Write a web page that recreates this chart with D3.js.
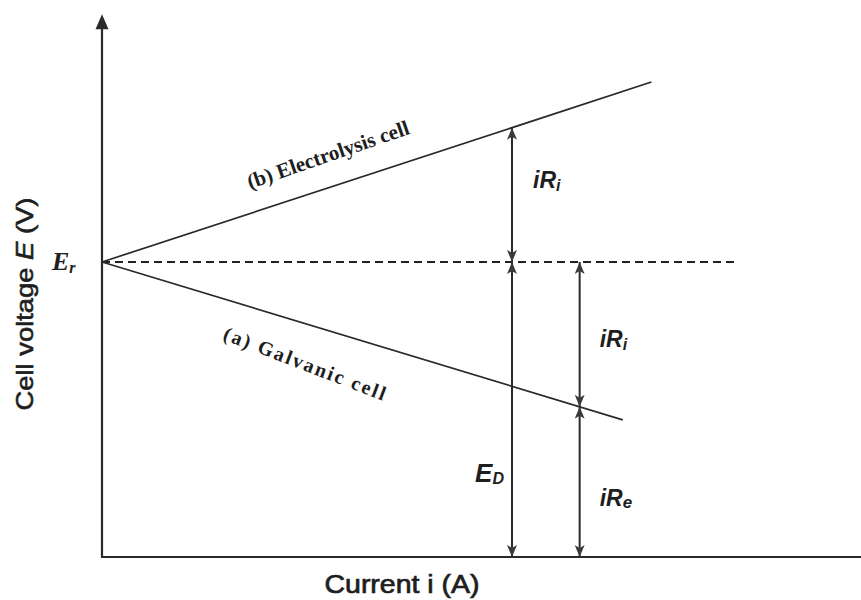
<!DOCTYPE html>
<html>
<head>
<meta charset="utf-8">
<script src="https://cdn.jsdelivr.net/npm/d3@7"></script>
<style>
  html, body { margin: 0; padding: 0; background: #fff; }
  svg { display: block; }
</style>
</head>
<body>
<svg id="chart" width="861" height="600"></svg>
<script>
// Cell voltage vs. current for a galvanic and an electrolysis cell
const reversibleE = 1.0;                 // E_r, cell voltage at zero current
const electrolysisI = [0, 1.34];         // (b) electrolysis cell: current
const electrolysisE = [1.0, 1.61];       //                        voltage
const galvanicI = [0, 1.27];             // (a) galvanic cell: current
const galvanicE = [1.0, 0.465];          //                    voltage
const markerCurrents = [1.0, 1.165];     // currents where the voltage drops are marked
const dashedEndI = 1.55;                 // extent of the E_r reference line
const axisMaxI = 1.86, axisMaxE = 1.84;

const svg = d3.select("#chart");
const x = d3.scaleLinear().domain([0, 1]).range([102, 512]);
const y = d3.scaleLinear().domain([0, 1]).range([557, 262]);

const ink = "#2a2a2a";

// arrow heads
const defs = svg.append("defs");
defs.append("marker")
  .attr("id", "head")
  .attr("viewBox", "0 0 12 10")
  .attr("refX", 12).attr("refY", 5)
  .attr("markerWidth", 12).attr("markerHeight", 10)
  .attr("markerUnits", "userSpaceOnUse")
  .attr("orient", "auto-start-reverse")
  .append("path")
  .attr("d", "M0,0 L12,5 L0,10 L3,5 Z")
  .attr("fill", "#3a3a3a");

// axes
const axes = svg.append("g");
axes.append("line")
  .attr("x1", x(0)).attr("y1", y(0))
  .attr("x2", x(0)).attr("y2", y(axisMaxE) + 12)
  .attr("stroke", ink).attr("stroke-width", 2.2);
axes.append("path")
  .attr("d", `M${x(0)},${y(axisMaxE)} L${x(0) + 6.5},${y(axisMaxE) + 15} L${x(0) - 6.5},${y(axisMaxE) + 15} Z`)
  .attr("fill", ink);
axes.append("line")
  .attr("x1", x(0) - 1).attr("y1", y(0))
  .attr("x2", x(axisMaxI)).attr("y2", y(0))
  .attr("stroke", ink).attr("stroke-width", 2.2);
axes.append("path")
  .attr("d", `M${x(axisMaxI) + 12},${y(0)} L${x(axisMaxI) - 3},${y(0) - 6.5} L${x(axisMaxI) - 3},${y(0) + 6.5} Z`)
  .attr("fill", ink);

// E_r reference line
svg.append("line")
  .attr("x1", x(0)).attr("y1", y(reversibleE))
  .attr("x2", x(dashedEndI)).attr("y2", y(reversibleE))
  .attr("stroke", "#222").attr("stroke-width", 1.8)
  .attr("stroke-dasharray", "8,5");

// characteristic lines
const line = d3.line().x(d => x(d[0])).y(d => y(d[1]));
const eData = d3.zip(electrolysisI, electrolysisE);
const gData = d3.zip(galvanicI, galvanicE);
[eData, gData].forEach(d => {
  svg.append("path")
    .attr("d", line(d))
    .attr("fill", "none")
    .attr("stroke", ink).attr("stroke-width", 1.7);
});

const eAt = i => d3.scaleLinear().domain(electrolysisI).range(electrolysisE)(i);
const gAt = i => d3.scaleLinear().domain(galvanicI).range(galvanicE)(i);

// voltage-drop arrows
const [iA, iB] = markerCurrents;
const segments = [
  { i: iA, from: eAt(iA), to: reversibleE },
  { i: iA, from: reversibleE, to: 0 },
  { i: iB, from: reversibleE, to: gAt(iB) },
  { i: iB, from: gAt(iB), to: 0 }
];
svg.append("g").selectAll("line")
  .data(segments)
  .join("line")
  .attr("x1", d => x(d.i)).attr("x2", d => x(d.i))
  .attr("y1", d => y(d.from)).attr("y2", d => y(d.to))
  .attr("stroke", ink).attr("stroke-width", 2)
  .attr("marker-start", "url(#head)")
  .attr("marker-end", "url(#head)");

// symbol labels (main letters + subscript)
function symbol(px, py, main, sub, opts) {
  const t = svg.append("text")
    .attr("x", px).attr("y", py)
    .attr("font-family", opts.family)
    .attr("font-style", "italic")
    .attr("font-weight", "bold")
    .attr("font-size", opts.size)
    .attr("fill", "#1e1e1e")
    .attr("text-anchor", opts.anchor || "start");
  t.append("tspan").text(main);
  t.append("tspan").attr("dy", opts.subDy).attr("font-size", opts.subSize).text(sub);
}
const sans = "'Liberation Sans', Arial, sans-serif";
const serif = "'Liberation Serif', 'Times New Roman', serif";

symbol(52, y(reversibleE) + 8, "E", "r", { family: serif, size: 26, subSize: 16, subDy: 3 });
const midA = (eAt(iA) + reversibleE) / 2;
symbol(x(iA) + 21, y(midA) - 7, "iR", "i", { family: sans, size: 23, subSize: 16, subDy: 3 });
symbol(x(iB) + 20, (y(reversibleE) + y(gAt(iB))) / 2 + 13, "iR", "i", { family: sans, size: 23, subSize: 16, subDy: 3 });
symbol(x(iA) - 8, y(0) - 75, "E", "D", { family: sans, size: 26, subSize: 16, subDy: 2, anchor: "end" });
symbol(x(iB) + 20, (y(gAt(iB)) + y(0)) / 2 + 24, "iR", "e", { family: sans, size: 23, subSize: 17, subDy: 2 });

// curve labels
svg.append("text")
  .attr("transform", "translate(250,189) rotate(-19)")
  .attr("font-family", serif).attr("font-weight", "bold")
  .attr("font-size", 21).attr("fill", "#1e1e1e")
  .attr("textLength", 170).attr("lengthAdjust", "spacingAndGlyphs")
  .text("(b) Electrolysis cell");
svg.append("text")
  .attr("transform", "translate(222,339) rotate(21)")
  .attr("font-family", serif).attr("font-weight", "bold")
  .attr("font-size", 20).attr("fill", "#1e1e1e")
  .attr("textLength", 172).attr("lengthAdjust", "spacing")
  .text("(a) Galvanic cell");

// axis titles
const yTitle = svg.append("text")
  .attr("transform", "translate(33,304) rotate(-90)")
  .attr("text-anchor", "middle")
  .attr("font-family", sans)
  .attr("font-size", 24).attr("fill", "#1e1e1e")
  .attr("stroke", "#1e1e1e").attr("stroke-width", 0.6)
  .attr("textLength", 213).attr("lengthAdjust", "spacingAndGlyphs");
yTitle.append("tspan").text("Cell voltage ");
yTitle.append("tspan").attr("font-style", "italic").text("E");
yTitle.append("tspan").text(" (V)");

svg.append("text")
  .attr("x", 402).attr("y", 593)
  .attr("text-anchor", "middle")
  .attr("font-family", sans)
  .attr("font-size", 25).attr("fill", "#1e1e1e")
  .attr("stroke", "#1e1e1e").attr("stroke-width", 0.7)
  .attr("textLength", 155).attr("lengthAdjust", "spacingAndGlyphs")
  .text("Current i (A)");
</script>
</body>
</html>
